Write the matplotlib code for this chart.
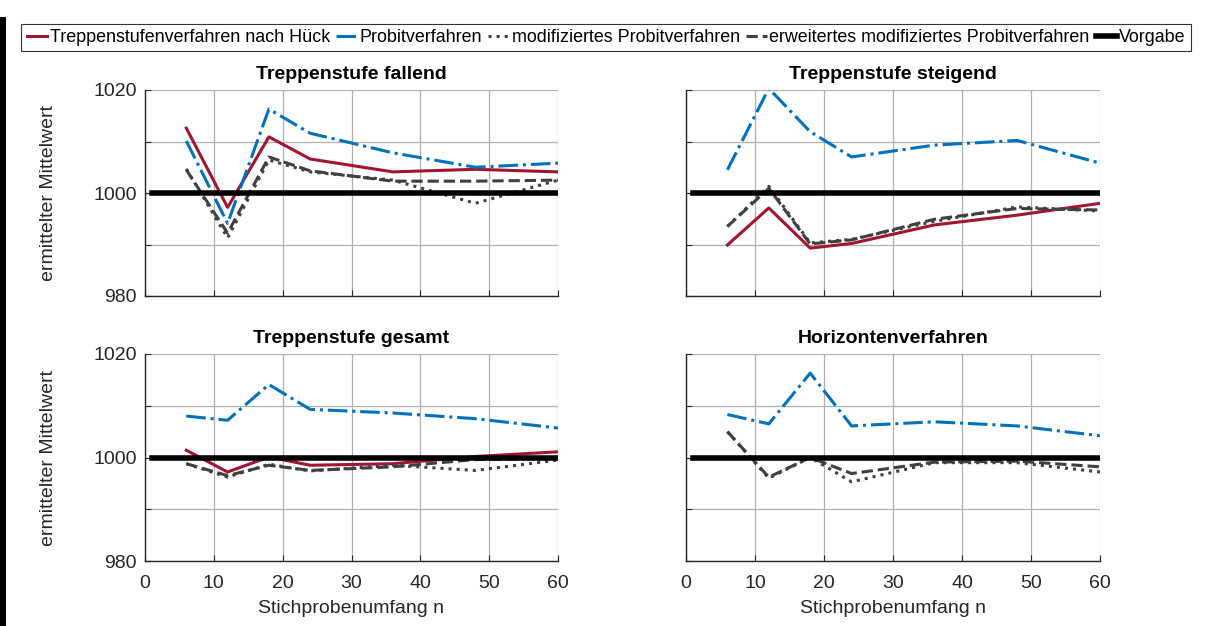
import matplotlib

matplotlib.use("Agg")
import matplotlib.pyplot as plt
from matplotlib.lines import Line2D

plt.rcParams["font.family"] = ["Liberation Sans", "DejaVu Sans"]

# Stichprobenumfang n
n = [6, 12, 18, 24, 36, 48, 60]
vorgabe_x = [1, 60]
vorgabe_y = [1000, 1000]

titles = ["Treppenstufe fallend", "Treppenstufe steigend",
          "Treppenstufe gesamt", "Horizontenverfahren"]

# Treppenstufenverfahren nach Hück (not present for Horizontenverfahren)
hueck_fallend = [1012.6, 997.2, 1010.9, 1006.6, 1004.1, 1004.6, 1004.1]
hueck_steigend = [989.9, 997.1, 989.3, 990.2, 993.8, 995.7, 998.0]
hueck_gesamt = [1001.4, 997.2, 1000.1, 998.5, 998.8, 1000.2, 1001.1]

# Probitverfahren
probit_fallend = [1010.1, 994.1, 1016.3, 1011.6, 1007.8, 1005.0, 1005.8]
probit_steigend = [1004.5, 1020.3, 1011.9, 1007.0, 1009.3, 1010.2, 1005.8]
probit_gesamt = [1008.0, 1007.2, 1014.1, 1009.3, 1008.6, 1007.5, 1005.7]
probit_horizont = [1008.3, 1006.5, 1016.3, 1006.1, 1006.9, 1006.1, 1004.2]

# modifiziertes Probitverfahren
mod_fallend = [1004.7, 991.3, 1006.4, 1004.1, 1002.5, 998.0, 1002.5]
mod_steigend = [993.5, 1001.3, 990.3, 991.0, 994.5, 997.3, 996.5]
mod_gesamt = [998.8, 996.2, 998.7, 997.4, 998.5, 997.5, 999.5]
mod_horizont = [1005.0, 996.0, 1000.0, 995.3, 999.0, 999.0, 997.2]

# erweitertes modifiziertes Probitverfahren
erw_fallend = [1004.5, 992.2, 1007.0, 1004.3, 1002.3, 1002.3, 1002.5]
erw_steigend = [993.5, 1000.9, 990.1, 990.9, 994.9, 997.0, 996.7]
erw_gesamt = [998.8, 996.5, 998.5, 997.5, 998.2, 999.6, 999.8]
erw_horizont = [1005.0, 996.2, 1000.0, 996.9, 999.1, 999.3, 998.2]

hueck = [hueck_fallend, hueck_steigend, hueck_gesamt, None]
probit = [probit_fallend, probit_steigend, probit_gesamt, probit_horizont]
mod = [mod_fallend, mod_steigend, mod_gesamt, mod_horizont]
erw = [erw_fallend, erw_steigend, erw_gesamt, erw_horizont]

RED = "#A2142F"
BLUE = "#0072BD"
GRAY = "#404040"
TXT = "#262626"

fig = plt.figure(figsize=(12.05, 6.26), dpi=100)

W, H = 1205, 626
boxes = [(145, 90, 558, 296), (686, 90, 1100, 296),
         (145, 354, 558, 561), (686, 354, 1100, 561)]

handles = None
for i, (x0, y0, x1, y1) in enumerate(boxes):
    ax = fig.add_axes([x0 / W, 1 - y1 / H, (x1 - x0) / W, (y1 - y0) / H])
    h1 = None
    if hueck[i] is not None:
        h1, = ax.plot(n, hueck[i], color=RED, lw=2.2, ls="-")
    h2, = ax.plot(n, probit[i], color=BLUE, lw=2.2, ls="-.")
    h3, = ax.plot(n, mod[i], color=GRAY, lw=2.2, ls=":")
    h4, = ax.plot(n, erw[i], color=GRAY, lw=2.2, ls="--")
    h5, = ax.plot(vorgabe_x, vorgabe_y, color="black", lw=4)
    if i == 0:
        handles = [h1, h2, h3, h4, h5]

    ax.set_xlim(0, 60)
    ax.set_ylim(980, 1020)
    ax.set_xticks(range(0, 61, 10))
    ax.set_yticks(range(980, 1021, 10))
    ax.grid(True, color="#b0b0b0", lw=0.9)
    ax.set_axisbelow(True)
    for side in ["top", "right"]:
        ax.spines[side].set_visible(False)
    for side in ["left", "bottom"]:
        ax.spines[side].set_color(TXT)
        ax.spines[side].set_linewidth(1.0)
    ax.tick_params(labelsize=14, length=4, direction="in", colors=TXT)
    ax.tick_params(axis="x", pad=10)
    ax.tick_params(axis="y", pad=6)

    if i % 2 == 0:
        ax.set_yticklabels(["980", "", "1000", "", "1020"])
        ax.set_ylabel("ermittelter Mittelwert", fontsize=14, color=TXT, labelpad=26)
    else:
        ax.set_yticklabels([])
    if i >= 2:
        ax.set_xticklabels([str(v) for v in range(0, 61, 10)])
        ax.set_xlabel("Stichprobenumfang n", fontsize=14, color=TXT, labelpad=6)
    else:
        ax.set_xticklabels([])
    ax.set_title(titles[i], fontsize=14, fontweight="bold", pad=8)

labels = ["Treppenstufenverfahren nach Hück", "Probitverfahren",
          "modifiziertes Probitverfahren",
          "erweitertes modifiziertes Probitverfahren", "Vorgabe"]
leg = fig.legend(handles, labels, loc="center", bbox_to_anchor=(0.503, 1 - 37.5 / H),
                 ncol=5, fontsize=12.9, frameon=True, fancybox=False,
                 handlelength=1.15, handletextpad=0.15, columnspacing=0.35,
                 borderpad=0.3, borderaxespad=0)
leg.get_frame().set_edgecolor("black")
leg.get_frame().set_linewidth(0.8)

# thick border on the left edge of the figure
fig.add_artist(Line2D([0.002, 0.002], [0, 1 - 20 / H], color="black", lw=5,
                      transform=fig.transFigure))

fig.savefig("out.png", dpi=100)
